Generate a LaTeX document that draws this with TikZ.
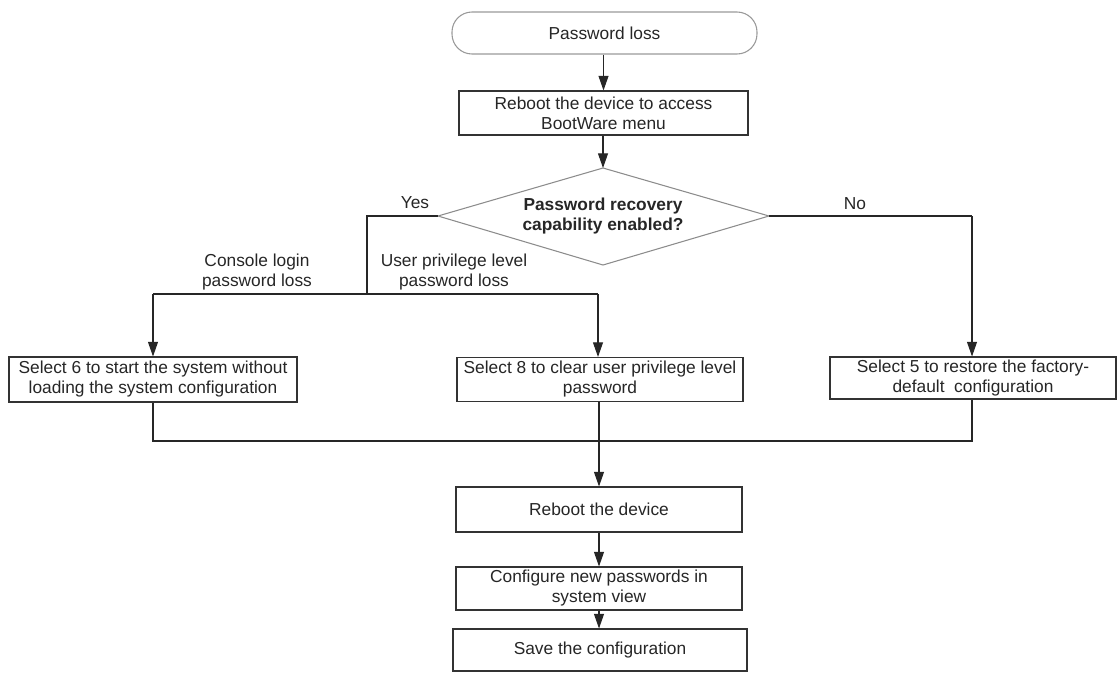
\documentclass[tikz,border=0pt]{standalone}
\usepackage{fontspec}
\setmainfont{Liberation Sans}
\usetikzlibrary{arrows.meta}
\tikzset{
  box/.style={draw=black!80, line width=0.8pt, fill=white, inner sep=0pt, align=center, font=\fontsize{13}{15}\selectfont, text=black!85},
  term/.style={draw=black!40, line width=0.8pt, rounded corners=15pt, inner sep=0pt, align=center, font=\fontsize{13}{15}\selectfont, text=black!85},
  lbl/.style={align=center, inner sep=0pt, font=\fontsize{13}{15}\selectfont, text=black!85},
  conn/.style={draw=black!85, line width=0.8pt},
  arr/.style={conn, -{Triangle[length=11pt,width=7.5pt]}},
}
\begin{document}
\begin{tikzpicture}[x=0.75pt,y=-0.75pt]
\useasboundingbox (0,0) rectangle (1120,676);
% nodes
\node[term, minimum width=228.75pt, minimum height=31.5pt] (start) at (604.5,33) {Password loss};
\node[box, minimum width=216.75pt, minimum height=33pt] (boot) at (603.5,113) {Reboot the device to access\\BootWare menu};
\coordinate (decT) at (603,168);
\coordinate (decB) at (603,265);
\coordinate (decL) at (438,216);
\coordinate (decR) at (769,216);
\draw[draw=black!45, line width=0.8pt] (decT) -- (decR) -- (decB) -- (decL) -- cycle;
\node[lbl, font=\fontsize{13}{15}\selectfont\bfseries] (dec) at (603,216) {Password recovery\\capability enabled?};
\node[box, minimum width=216pt, minimum height=33.75pt] (s6) at (153,379.5) {Select 6 to start the system without\\loading the system configuration};
\node[box, minimum width=214.5pt, minimum height=33pt] (s8) at (600,379.5) {Select 8 to clear user privilege level\\password};
\node[box, minimum width=214.5pt, minimum height=31.5pt] (s5) at (973,378) {Select 5 to restore the factory-\\default\ \ configuration};
\node[box, minimum width=214.5pt, minimum height=33.75pt] (reboot) at (599,509.5) {Reboot the device};
\node[box, minimum width=214.5pt, minimum height=32.25pt] (conf) at (599,588.5) {Configure new passwords in\\system view};
\node[box, minimum width=220.5pt, minimum height=31.5pt] (save) at (600,650) {Save the configuration};
% labels
\node[lbl] (yes) at (415,203) {Yes};
\node[lbl] (no) at (855,204) {No};
\node[lbl] (console) at (257,272) {Console login\\password loss};
\node[lbl] (userpriv) at (454,272) {User privilege level\\password loss};
% junction coordinates
\coordinate (yc) at (367,216);
\coordinate (jy) at (367,294);
\coordinate (jL) at (153,294);
\coordinate (jR) at (598,294);
\coordinate (nc) at (972,216);
\coordinate (mL) at (153,441);
\coordinate (mM) at (599,441);
\coordinate (mR) at (972,441);
% connectors
\draw[arr] (start.south -| boot.north) -- (boot.north);
\draw[arr] (boot.south -| decT) -- (decT);
\draw[conn] (decL) -- (yc) -- (jy);
\draw[conn] (jL) -- (jR);
\draw[arr] (jL) -- (jL |- s6.north);
\draw[arr] (jR) -- (jR |- s8.north);
\draw[conn] (decR) -- (nc);
\draw[arr] (nc) -- (nc |- s5.north);
\draw[conn] (s6.south -| mL) -- (mL) -- (mR) -- (s5.south -| mR);
\draw[conn] (s8.south -| mM) -- (mM);
\draw[arr] (mM) -- (reboot.north -| mM);
\draw[arr] (reboot.south -| mM) -- (conf.north -| mM);
\draw[arr] (conf.south -| mM) -- (save.north -| mM);
\end{tikzpicture}
\end{document}
